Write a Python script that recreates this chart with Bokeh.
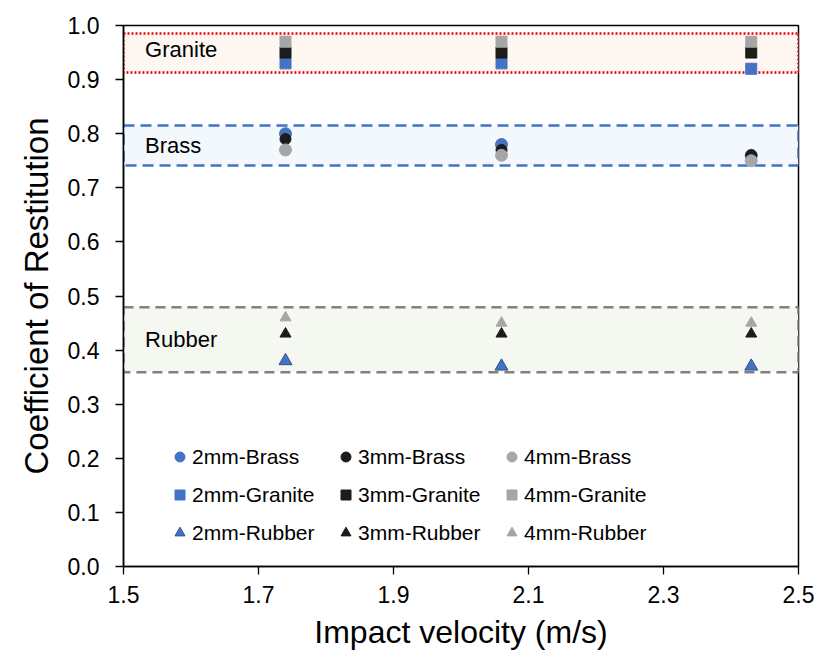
from bokeh.plotting import figure
from bokeh.models import (FixedTicker, BoxAnnotation, Label, Legend, LegendItem,
                          ColumnDataSource, Range1d, CustomJSTickFormatter)
from bokeh.embed import file_html
from bokeh.resources import INLINE

# ---- data ----
velocity = [1.74, 2.06, 2.43]

brass_2mm = [0.80, 0.78, 0.76]
brass_3mm = [0.79, 0.77, 0.76]
brass_4mm = [0.77, 0.76, 0.75]

granite_2mm = [0.93, 0.93, 0.92]
granite_3mm = [0.95, 0.95, 0.95]
granite_4mm = [0.97, 0.97, 0.97]

rubber_2mm = [0.38, 0.37, 0.37]
rubber_3mm = [0.43, 0.43, 0.43]
rubber_4mm = [0.46, 0.45, 0.45]

x_ticks = [1.5, 1.7, 1.9, 2.1, 2.3, 2.5]
y_ticks = [0.0, 0.1, 0.2, 0.3, 0.4, 0.5, 0.6, 0.7, 0.8, 0.9, 1.0]

# band limits (material groups)
granite_band = (0.913, 0.985)
brass_band = (0.741, 0.815)
rubber_band = (0.359, 0.479)
band_names = ["Granite", "Brass", "Rubber"]
band_label_y = [0.955, 0.778, 0.42]

FONT = "Liberation Sans"
BLUE = "#4472C4"
BLACK = "#1C1C1C"
GREY = "#A6A6A6"

p = figure(width=814, height=653, output_backend="svg", toolbar_location=None,
           x_range=Range1d(1.5, 2.5), y_range=Range1d(0, 1.0),
           min_border_left=123, min_border_right=16, min_border_top=25,
           min_border_bottom=87)
p.background_fill_color = "white"
p.border_fill_color = "white"
p.outline_line_color = "black"
p.outline_line_width = 1.5
p.xgrid.visible = False
p.ygrid.visible = False

# bands
p.add_layout(BoxAnnotation(bottom=granite_band[0], top=granite_band[1],
                           fill_color="#FDF6F1", fill_alpha=1.0,
                           line_color="#E8000B", line_alpha=1.0, line_width=2.5,
                           line_dash="2 2", level="underlay"))
p.add_layout(BoxAnnotation(bottom=brass_band[0], top=brass_band[1],
                           fill_color="#F3F8FD", fill_alpha=1.0,
                           line_color=BLUE, line_alpha=1.0, line_width=2.5,
                           line_dash="11 6", level="underlay"))
p.add_layout(BoxAnnotation(bottom=rubber_band[0], top=rubber_band[1],
                           fill_color="#F5F8F0", fill_alpha=1.0,
                           line_color="#808080", line_alpha=1.0, line_width=2.5,
                           line_dash="10 6", level="underlay"))

for txt, yv in zip(band_names, band_label_y):
    p.add_layout(Label(x=1.532, y=yv, text=txt, text_font=FONT, text_font_size="22px",
                       text_baseline="middle", text_color="black"))

items = {}
def add(vals, marker, color, size, label, line_color=None):
    src = ColumnDataSource(dict(x=velocity, y=vals))
    r = p.scatter("x", "y", source=src, marker=marker, size=size,
                  fill_color=color, line_color=line_color or color, line_width=1)
    items[label] = LegendItem(label=label, renderers=[r])

add(brass_2mm, "circle", BLUE, 12, "2mm-Brass")
add(brass_3mm, "circle", BLACK, 11, "3mm-Brass")
add(brass_4mm, "circle", GREY, 12, "4mm-Brass")
add(granite_2mm, "square", BLUE, 11, "2mm-Granite")
add(granite_3mm, "square", BLACK, 11, "3mm-Granite")
add(granite_4mm, "square", GREY, 11, "4mm-Granite")
add(rubber_2mm, "triangle", BLUE, 13, "2mm-Rubber", line_color="#2F528F")
add(rubber_3mm, "triangle", BLACK, 11, "3mm-Rubber")
add(rubber_4mm, "triangle", GREY, 11, "4mm-Rubber")

order = ["2mm-Brass", "2mm-Granite", "2mm-Rubber",
         "3mm-Brass", "3mm-Granite", "3mm-Rubber",
         "4mm-Brass", "4mm-Granite", "4mm-Rubber"]
legend = Legend(items=[items[k] for k in order], ncols=3, location=(44, 21),
                label_text_font=FONT, label_text_font_size="21px",
                label_text_color="black",
                background_fill_alpha=0, border_line_alpha=0,
                glyph_width=25, glyph_height=25, label_height=25, label_width=128,
                label_standoff=0, spacing=13, padding=0, margin=0)
p.add_layout(legend, "center")

# axes
p.xaxis.ticker = FixedTicker(ticks=x_ticks)
p.yaxis.ticker = FixedTicker(ticks=y_ticks)
p.xaxis.formatter = CustomJSTickFormatter(code="return tick.toFixed(1);")
p.yaxis.formatter = CustomJSTickFormatter(code="return tick.toFixed(1);")
for ax in (p.xaxis, p.yaxis):
    ax.axis_line_color = "black"
    ax.axis_line_width = 1.5
    ax.major_tick_line_color = "black"
    ax.major_tick_line_width = 1.3
    ax.major_tick_out = 8
    ax.major_tick_in = 0
    ax.minor_tick_line_color = None
    ax.major_label_text_font = FONT
    ax.major_label_text_font_size = "23px"
    ax.major_label_text_color = "black"
    ax.axis_label_text_font = FONT
    ax.axis_label_text_font_style = "normal"
    ax.axis_label_text_color = "black"

p.xaxis.axis_label = "Impact velocity (m/s)"
p.yaxis.axis_label = "Coefficient of Restitution"
p.xaxis.axis_label_text_font_size = "32px"
p.yaxis.axis_label_text_font_size = "33px"
p.xaxis.major_label_standoff = 11
p.yaxis.major_label_standoff = 16
p.xaxis.axis_label_standoff = 8
p.yaxis.axis_label_standoff = 10

open("out.html", "w").write(file_html(p, INLINE))
